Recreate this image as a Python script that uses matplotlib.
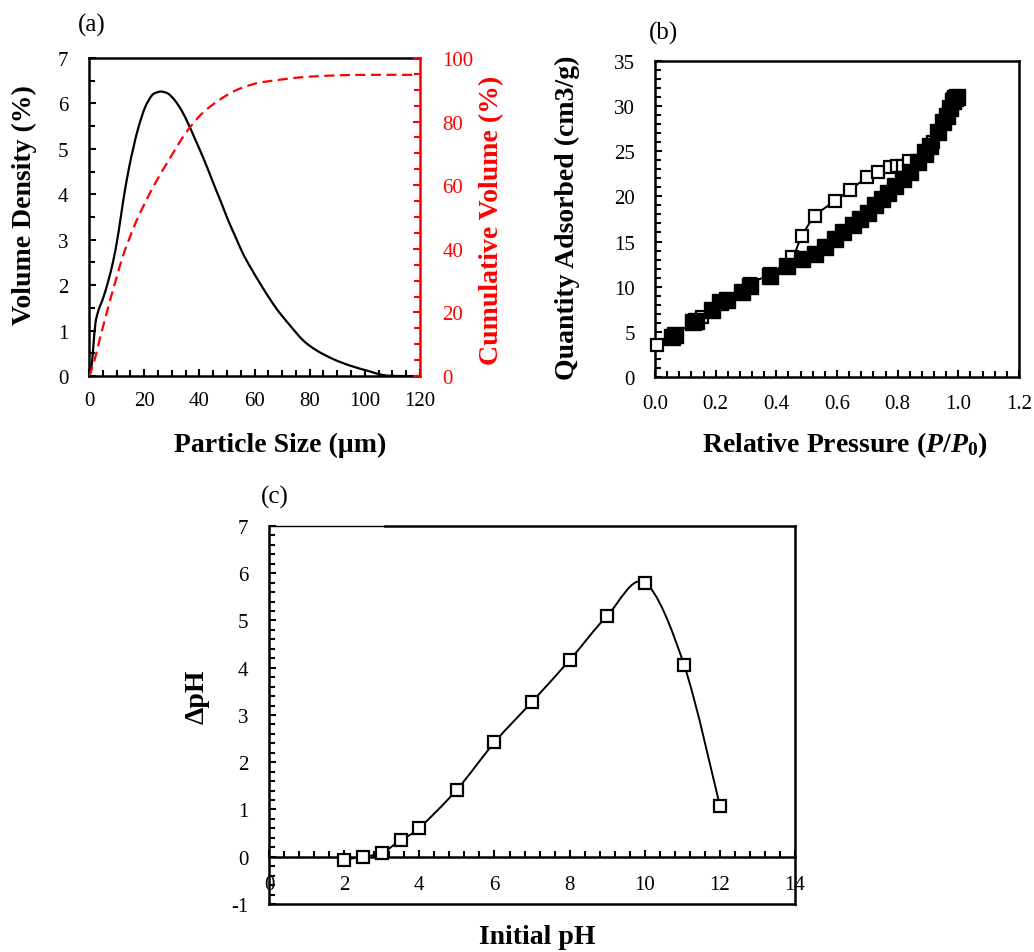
import numpy as np
import matplotlib
matplotlib.use('Agg')
import matplotlib.pyplot as plt
from matplotlib.path import Path
from matplotlib.patches import PathPatch
from matplotlib.ticker import MultipleLocator, FormatStrFormatter

# Fuentes tipo Times
plt.rcParams['font.family'] = ['Liberation Serif', 'DejaVu Serif']
plt.rcParams['mathtext.fontset'] = 'custom'
plt.rcParams['mathtext.it'] = 'Liberation Serif:italic:bold'
plt.rcParams['mathtext.rm'] = 'Liberation Serif:bold'
plt.rcParams['mathtext.bf'] = 'Liberation Serif:bold'
plt.rcParams['axes.unicode_minus'] = False

# (a) distribucion de tamano de particula
size_density = [0, 0.8, 1.5, 2.3, 3.4, 5.2, 7.0, 8.8, 10.6, 12.4, 14.3, 16.1, 17.9, 20.3,
                22.7, 24.5, 26.3, 28.8, 31.2, 33.6, 36.0, 38.4, 40.8, 43.3, 45.7, 48.1,
                50.5, 52.9, 55.3, 57.8, 63.2, 68.0, 72.9, 77.7, 82.6, 88.6, 94.6, 100.7,
                106.7, 112.8, 120]
volume_density = [0, 0.15, 0.6, 1.15, 1.44, 1.73, 2.10, 2.54, 3.13, 3.86, 4.52, 5.03, 5.47, 5.91,
                  6.17, 6.24, 6.26, 6.21, 6.06, 5.84, 5.55, 5.22, 4.89, 4.52, 4.15, 3.79,
                  3.42, 3.09, 2.76, 2.47, 1.92, 1.48, 1.11, 0.78, 0.56, 0.37, 0.23, 0.12,
                  0.02, 0, 0]
size_cum = [0, 2, 4, 6, 8, 10, 12, 14.3, 17.3, 20.9, 24.5, 28.8, 34.8, 40.8, 46.9, 52.9,
            59.6, 64.4, 76.5, 88.6, 100.7, 118.6]
cumulative = [0, 5, 12, 18.5, 25, 31, 37, 42.5, 49, 55.5, 61.4, 67.7, 76.1, 82.4, 86.6, 89.7,
              91.8, 92.6, 93.9, 94.5, 94.7, 94.7]

# (b) isoterma de adsorcion / desorcion
p_ads = [0.055, 0.065, 0.126, 0.135, 0.187, 0.214, 0.236, 0.286, 0.313, 0.379, 0.434, 0.484,
         0.527, 0.56, 0.593, 0.62, 0.654, 0.676, 0.703, 0.725, 0.747, 0.769, 0.791, 0.819,
         0.841, 0.868, 0.89, 0.907, 0.934, 0.95, 0.962, 0.973, 0.984, 0.989, 0.995]
q_ads = [4.4, 4.6, 6.1, 6.2, 7.4, 8.3, 8.5, 9.4, 10.1, 11.2, 12.3, 13.1,
         13.6, 14.4, 15.3, 16.0, 16.8, 17.5, 18.2, 19.0, 19.7, 20.4, 21.2, 21.9,
         22.7, 23.8, 24.9, 25.6, 27.1, 28.2, 28.9, 29.8, 30.6, 30.9, 31.0]
p_des = [0.005, 0.154, 0.236, 0.313, 0.379, 0.451, 0.484, 0.527, 0.593, 0.643, 0.698,
         0.736, 0.775, 0.797, 0.819, 0.838, 0.896, 0.918, 0.984]
q_des = [3.5, 6.6, 8.3, 10.3, 11.4, 13.3, 15.6, 17.8, 19.5, 20.7, 22.1,
         22.7, 23.2, 23.4, 23.4, 23.9, 24.5, 26.0, 30.8]

# (c) punto de carga cero
initial_ph = [2, 2.5, 3, 3.5, 4, 5, 6, 7, 8, 9, 10, 11.05, 12]
delta_ph = [-0.06, 0.0, 0.08, 0.35, 0.61, 1.42, 2.42, 3.28, 4.16, 5.1, 5.8, 4.05, 1.08]

TICK_FS = 15
LABEL_FS = 20


def smooth_line(ax, x, y, **kw):
    # linea suavizada (bezier tipo Catmull-Rom) a traves de los puntos
    pts = np.column_stack([x, y]).astype(float)
    n = len(pts)
    verts = [pts[0]]
    codes = [Path.MOVETO]
    for i in range(n - 1):
        p0 = pts[i - 1] if i > 0 else pts[i]
        p1 = pts[i]
        p2 = pts[i + 1]
        p3 = pts[i + 2] if i + 2 < n else pts[i + 1]
        verts += [p1 + (p2 - p0) / 6, p2 - (p3 - p1) / 6, p2]
        codes += [Path.CURVE4] * 3
    patch = PathPatch(Path(verts, codes), fill=False, **kw)
    ax.add_patch(patch)
    return patch


fig = plt.figure(figsize=(10.34, 9.53), dpi=100)

# ---------------- (a) ----------------
axA = fig.add_axes([0.0861, 0.6044, 0.3201, 0.3337])
smooth_line(axA, size_density, volume_density, edgecolor='black', lw=1.6, zorder=3)
axA.set_xlim(0, 120)
axA.set_ylim(0, 7)
axA.xaxis.set_major_locator(MultipleLocator(20))
axA.xaxis.set_minor_locator(MultipleLocator(5))
axA.yaxis.set_major_locator(MultipleLocator(1))
axA.yaxis.set_minor_locator(MultipleLocator(0.5))
axA.tick_params(axis='x', which='both', direction='in', top=False, pad=11, labelsize=TICK_FS, width=1.5)
axA.tick_params(axis='y', which='both', direction='in', right=False, pad=15, labelsize=TICK_FS, width=1.5)
axA.tick_params(which='major', length=5)
axA.tick_params(which='minor', length=4)
for s in axA.spines.values():
    s.set_linewidth(1.8)
axA.spines['right'].set_visible(False)
axA.set_xlabel('Particle Size (µm)', fontsize=LABEL_FS, fontweight='bold', va='center')
axA.xaxis.set_label_coords(0.577, -0.214)
axA.set_ylabel('Volume Density (%)', fontsize=LABEL_FS, fontweight='bold', va='center')
axA.yaxis.set_label_coords(-0.196, 0.541)

axA2 = axA.twinx()
smooth_line(axA2, size_cum, cumulative, edgecolor='red', lw=1.6, linestyle=(0, (4.5, 2.5)), zorder=3)
axA2.set_xlim(0, 120)
axA2.set_ylim(0, 100)
axA2.yaxis.set_major_locator(MultipleLocator(20))
axA2.yaxis.set_minor_locator(MultipleLocator(5))
axA2.tick_params(axis='y', which='both', direction='in', colors='red', pad=16, labelsize=TICK_FS, width=1.5)
axA2.tick_params(which='major', length=5)
axA2.tick_params(which='minor', length=4)
for name, s in axA2.spines.items():
    s.set_visible(name == 'right')
axA2.spines['right'].set_color('red')
axA2.spines['right'].set_linewidth(1.8)
axA2.set_ylabel('Cumulative Volume (%)', fontsize=LABEL_FS, fontweight='bold', color='red', va='center')
axA2.yaxis.set_label_coords(1.215, 0.491)

# ---------------- (b) ----------------
axB = fig.add_axes([0.6335, 0.6034, 0.3520, 0.3316])
smooth_line(axB, p_des, q_des, edgecolor='black', lw=1.4, zorder=2)
axB.plot(p_des, q_des, linestyle='none', marker='s', ms=8, mfc='white', mec='black', mew=1.6, zorder=3,
         clip_on=False)
axB.plot(p_ads, q_ads, linestyle='none', marker='s', ms=11, mfc='black', mec='black', zorder=4)
axB.set_xlim(0, 1.2)
axB.set_ylim(0, 35)
axB.xaxis.set_major_locator(MultipleLocator(0.2))
axB.xaxis.set_minor_locator(MultipleLocator(0.04))
axB.xaxis.set_major_formatter(FormatStrFormatter('%.1f'))
axB.yaxis.set_major_locator(MultipleLocator(5))
axB.yaxis.set_minor_locator(MultipleLocator(1))
axB.tick_params(axis='x', which='both', direction='in', top=False, pad=12, labelsize=TICK_FS, width=1.5)
axB.tick_params(axis='y', which='both', direction='in', right=False, pad=14.5, labelsize=TICK_FS, width=1.5)
axB.tick_params(which='major', length=5)
axB.tick_params(which='minor', length=4)
for s in axB.spines.values():
    s.set_linewidth(1.8)
axB.set_xlabel('Relative Pressure ($P$/$P_0$)', fontsize=LABEL_FS, fontweight='bold', va='center')
axB.xaxis.set_label_coords(0.52, -0.212)
axB.set_ylabel('Quantity Adsorbed (cm3/g)', fontsize=LABEL_FS, fontweight='bold', va='center')
axB.yaxis.set_label_coords(-0.242, 0.506)

# ---------------- (c) ----------------
axC = fig.add_axes([0.2602, 0.0504, 0.5087, 0.3966])
smooth_line(axC, initial_ph, delta_ph, edgecolor='black', lw=1.4, zorder=2)
axC.plot(initial_ph, delta_ph, linestyle='none', marker='s', ms=8, mfc='white', mec='black', mew=1.6, zorder=3)
axC.set_xlim(0, 14)
axC.set_ylim(-1, 7)
axC.xaxis.set_major_locator(MultipleLocator(2))
axC.xaxis.set_minor_locator(MultipleLocator(0.4))
axC.yaxis.set_major_locator(MultipleLocator(1))
axC.yaxis.set_minor_locator(MultipleLocator(0.2))
axC.tick_params(axis='x', which='both', direction='in', top=False, pad=13, labelsize=TICK_FS, width=1.5)
axC.tick_params(axis='y', which='both', direction='in', right=False, pad=15, labelsize=TICK_FS, width=1.5)
axC.tick_params(which='major', length=5)
axC.tick_params(which='minor', length=4)
axC.spines['bottom'].set_position(('data', 0))
axC.spines['bottom'].set_linewidth(1.8)
axC.spines['left'].set_linewidth(1.8)
axC.spines['right'].set_linewidth(1.8)
axC.spines['top'].set_visible(False)
# marco: borde superior (parte izquierda mas fina) y borde inferior
axC.plot([0, 0.22], [1, 1], transform=axC.transAxes, color='black', lw=1.0, clip_on=False)
axC.plot([0.22, 1], [1, 1], transform=axC.transAxes, color='black', lw=1.8, clip_on=False)
axC.plot([0, 1], [0, 0], transform=axC.transAxes, color='black', lw=1.8, clip_on=False)
axC.set_xlabel('Initial pH', fontsize=LABEL_FS, fontweight='bold', va='center')
axC.xaxis.set_label_coords(0.51, -0.085)
axC.set_ylabel('ΔpH', fontsize=LABEL_FS, fontweight='bold', va='center')
axC.yaxis.set_label_coords(-0.137, 0.55)

# Etiquetas de panel
fig.text(92 / 1034, 1 - 25 / 953, '(a)', fontsize=18, ha='center', va='center')
fig.text(663 / 1034, 1 - 33 / 953, '(b)', fontsize=18, ha='center', va='center')
fig.text(275 / 1034, 1 - 497 / 953, '(c)', fontsize=18, ha='center', va='center')

fig.savefig('out.png', dpi=100)
